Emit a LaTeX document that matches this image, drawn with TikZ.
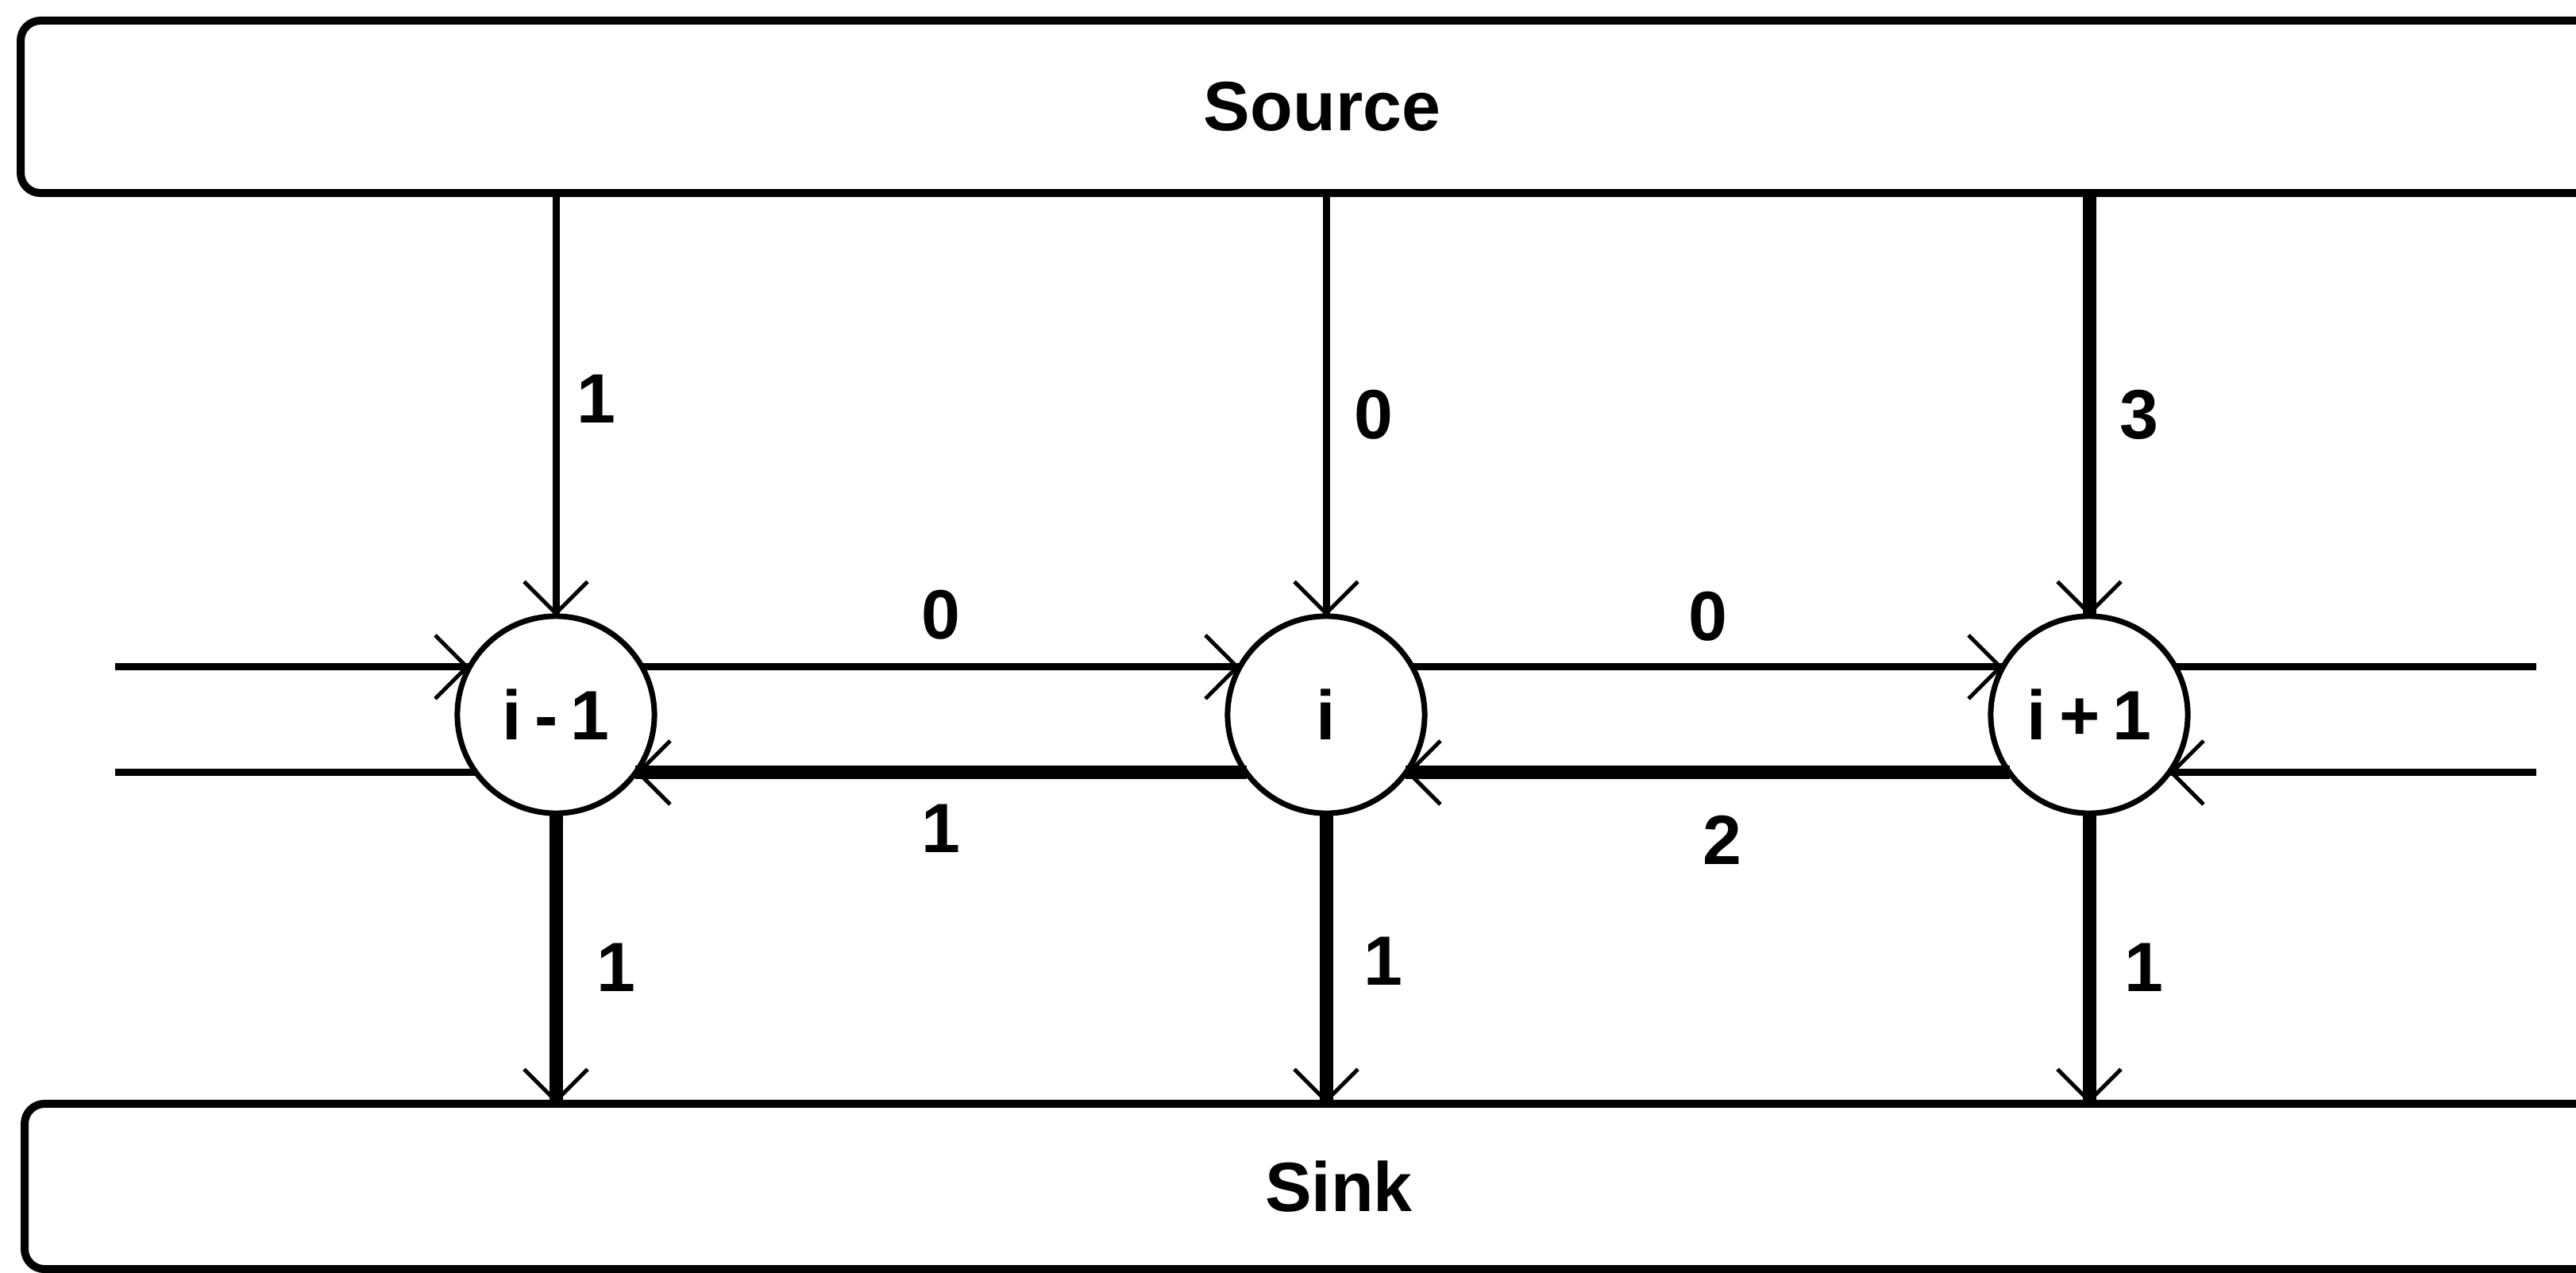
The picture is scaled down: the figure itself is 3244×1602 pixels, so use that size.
\documentclass[tikz,border=0pt]{standalone}
\usepackage{fontspec}
\setmainfont{Liberation Sans}
\usetikzlibrary{arrows.meta,decorations.markings}
\begin{document}
\begin{tikzpicture}[x=0.01cm,y=-0.01cm,
  font=\fontsize{25}{30}\selectfont\bfseries,
  vtx/.style={circle,draw,line width=0.07cm,inner sep=0pt,outer sep=0pt,minimum size=2.48cm},
  bar/.style={rectangle,rounded corners=0.25cm,draw,line width=0.1cm,inner sep=0pt,outer sep=0pt},
  thinedge/.style={line width=0.09cm},
  thickedge/.style={line width=0.17cm},
  arrowend/.style={postaction={decorate},decoration={markings,mark=at position 1 with {\arrow{Straight Barb[length=0.4cm,width=0.8cm,line width=0.05cm 0]}}}},
  lbl/.style={inner sep=0pt,outer sep=0pt}
]
\useasboundingbox (0,0) rectangle (3244,1602);
\clip (0,0) rectangle (3244,1602);

% terminals
\node[bar,minimum width=32.76cm,minimum height=2.17cm] (src) at (1665,134.5) {Source};
\node[bar,minimum width=33.08cm,minimum height=2.08cm] (snk) at (1686,1494) {Sink};

% vertices
\node[vtx] (n1) at (700,900) {i\hspace{0.16cm}-\hspace{0.16cm}1};
\node[vtx] (n2) at (1670,900) {i};
\node[vtx] (n3) at (2631,900) {i\hspace{0.16cm}+\hspace{0.16cm}1};

% free ends
\coordinate (lx) at (145,0);
\coordinate (rx) at (3194,0);

% source edges
\draw[thinedge,arrowend] (src.south -| n1) -- node[lbl,pos=0.487,xshift=0.51cm]{1} (n1.north);
\draw[thinedge,arrowend] (src.south -| n2) -- node[lbl,pos=0.524,xshift=0.6cm]{0} (n2.north);
\draw[thickedge,arrowend] (src.south -| n3) -- node[lbl,pos=0.524,xshift=0.63cm]{3} (n3.north);

% sink edges
\draw[thickedge,arrowend] (n1.south) -- node[lbl,pos=0.53,xshift=0.76cm]{1} (n1.south |- snk.north);
\draw[thickedge,arrowend] (n2.south) -- node[lbl,pos=0.51,xshift=0.72cm]{1} (n2.south |- snk.north);
\draw[thickedge,arrowend] (n3.south) -- node[lbl,pos=0.53,xshift=0.69cm]{1} (n3.south |- snk.north);

% horizontal edges
\draw[thinedge,arrowend] (n1.29) -- node[lbl,yshift=0.66cm]{0} (n2.151);
\draw[thickedge,arrowend] (n2.-144) -- node[lbl,yshift=-0.7cm]{1} (n1.-36);
\draw[thinedge,arrowend] (n2.29) -- node[lbl,yshift=0.64cm]{0} (n3.151);
\draw[thickedge,arrowend] (n3.-144) -- node[lbl,yshift=-0.85cm,xshift=0.18cm]{2} (n2.-36);

% external edges
\draw[thinedge,arrowend] (n1.151 -| lx) -- (n1.151);
\draw[thinedge] (n1.-144) -- (n1.-144 -| lx);
\draw[thinedge] (n3.29) -- (n3.29 -| rx);
\draw[thinedge,arrowend] (n3.-36 -| rx) -- (n3.-36);
\end{tikzpicture}
\end{document}
